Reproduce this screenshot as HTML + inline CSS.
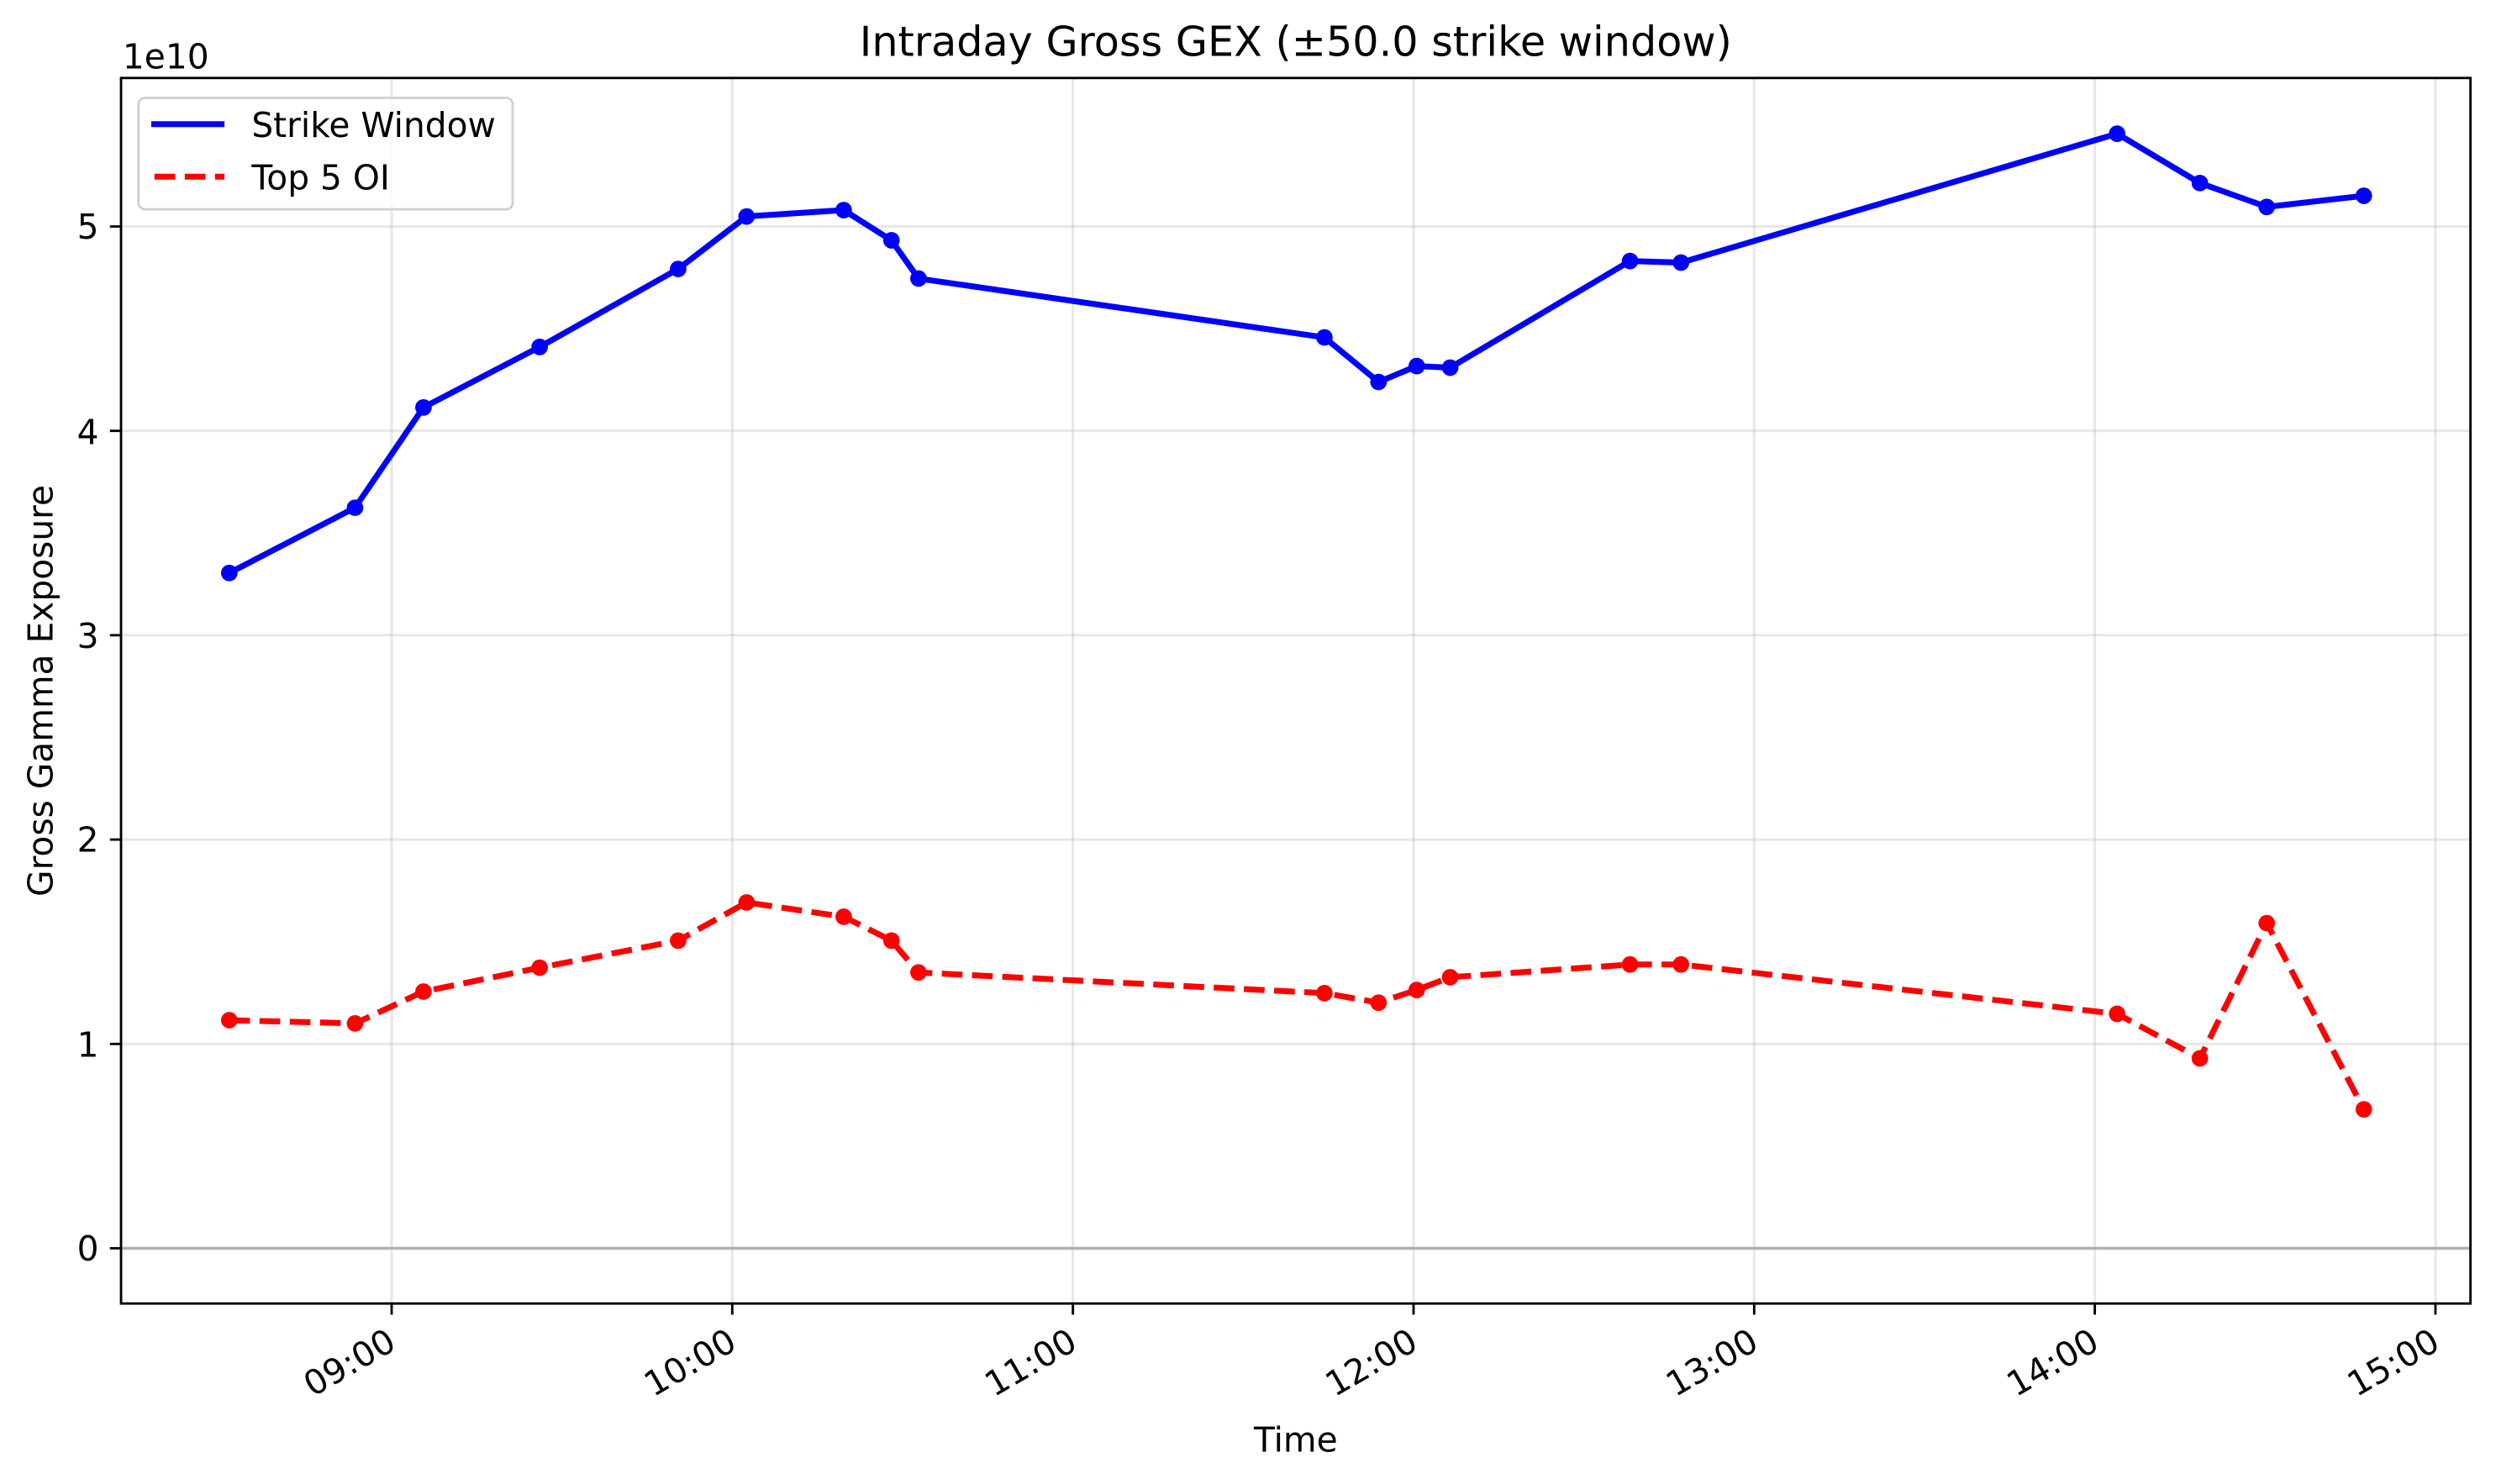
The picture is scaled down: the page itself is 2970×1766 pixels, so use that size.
<!DOCTYPE html>
<html><head><meta charset="utf-8"><style>html,body{margin:0;padding:0;background:#fff}svg{display:block}text{font-family:"DejaVu Sans","Liberation Sans",sans-serif;fill:#000}</style></head>
<body>
<svg width="2970" height="1766" viewBox="0 0 1568 932.4" xmlns="http://www.w3.org/2000/svg">
<rect width="1568" height="932.4" fill="#fff"/>
<g stroke="#b0b0b0" stroke-opacity="0.3" stroke-width="1.6">
<line x1="246" y1="49" x2="246" y2="819"/><line x1="460" y1="49" x2="460" y2="819"/><line x1="674" y1="49" x2="674" y2="819"/><line x1="888" y1="49" x2="888" y2="819"/><line x1="1102" y1="49" x2="1102" y2="819"/><line x1="1316" y1="49" x2="1316" y2="819"/><line x1="1530" y1="49" x2="1530" y2="819"/>
<line x1="76" y1="655.9" x2="1552" y2="655.9"/><line x1="76" y1="527.5" x2="1552" y2="527.5"/><line x1="76" y1="399.1" x2="1552" y2="399.1"/><line x1="76" y1="270.7" x2="1552" y2="270.7"/><line x1="76" y1="142.3" x2="1552" y2="142.3"/>
</g>
<line x1="76" y1="784.3" x2="1552" y2="784.3" stroke="#b0b0b0" stroke-width="1.8"/>
<polyline fill="none" stroke="#0000ff" stroke-width="3.7" stroke-linejoin="round" points="144,360 223,319 266,256 339,218 426,169 469,136 530,132 560,151 577,175 832,212 866,240 890,230 911,231 1024,164 1056,165 1330,84 1382,115 1424,130 1485,123"/>
<g fill="#0000ff"><circle cx="144" cy="360" r="5.2"/><circle cx="223" cy="319" r="5.2"/><circle cx="266" cy="256" r="5.2"/><circle cx="339" cy="218" r="5.2"/><circle cx="426" cy="169" r="5.2"/><circle cx="469" cy="136" r="5.2"/><circle cx="530" cy="132" r="5.2"/><circle cx="560" cy="151" r="5.2"/><circle cx="577" cy="175" r="5.2"/><circle cx="832" cy="212" r="5.2"/><circle cx="866" cy="240" r="5.2"/><circle cx="890" cy="230" r="5.2"/><circle cx="911" cy="231" r="5.2"/><circle cx="1024" cy="164" r="5.2"/><circle cx="1056" cy="165" r="5.2"/><circle cx="1330" cy="84" r="5.2"/><circle cx="1382" cy="115" r="5.2"/><circle cx="1424" cy="130" r="5.2"/><circle cx="1485" cy="123" r="5.2"/></g>
<polyline fill="none" stroke="#ff0000" stroke-width="3.7" stroke-dasharray="13,6" points="144,641 223,643 266,623 339,608 426,591 469,567 530,576 560,591 577,611 832,624 866,630 890,622 911,614 1024,606 1056,606 1330,637 1382,665 1424,580 1485,697"/>
<g fill="#ff0000"><circle cx="144" cy="641" r="5.2"/><circle cx="223" cy="643" r="5.2"/><circle cx="266" cy="623" r="5.2"/><circle cx="339" cy="608" r="5.2"/><circle cx="426" cy="591" r="5.2"/><circle cx="469" cy="567" r="5.2"/><circle cx="530" cy="576" r="5.2"/><circle cx="560" cy="591" r="5.2"/><circle cx="577" cy="611" r="5.2"/><circle cx="832" cy="624" r="5.2"/><circle cx="866" cy="630" r="5.2"/><circle cx="890" cy="622" r="5.2"/><circle cx="911" cy="614" r="5.2"/><circle cx="1024" cy="606" r="5.2"/><circle cx="1056" cy="606" r="5.2"/><circle cx="1330" cy="637" r="5.2"/><circle cx="1382" cy="665" r="5.2"/><circle cx="1424" cy="580" r="5.2"/><circle cx="1485" cy="697" r="5.2"/></g>
<rect x="76" y="49" width="1476" height="770" fill="none" stroke="#000" stroke-width="1.5"/>
<g stroke="#000" stroke-width="1.5">
<line x1="69" y1="784.3" x2="76" y2="784.3"/><line x1="69" y1="655.9" x2="76" y2="655.9"/><line x1="69" y1="527.5" x2="76" y2="527.5"/><line x1="69" y1="399.1" x2="76" y2="399.1"/><line x1="69" y1="270.7" x2="76" y2="270.7"/><line x1="69" y1="142.3" x2="76" y2="142.3"/>
<line x1="246" y1="819" x2="246" y2="826"/><line x1="460" y1="819" x2="460" y2="826"/><line x1="674" y1="819" x2="674" y2="826"/><line x1="888" y1="819" x2="888" y2="826"/><line x1="1102" y1="819" x2="1102" y2="826"/><line x1="1316" y1="819" x2="1316" y2="826"/><line x1="1530" y1="819" x2="1530" y2="826"/>
</g>
<g font-size="21.5" text-anchor="end">
<text x="62" y="792">0</text><text x="62" y="664">1</text><text x="62" y="535">2</text><text x="62" y="407">3</text><text x="62" y="279">4</text><text x="62" y="150">5</text>
</g>
<g font-size="21.5" text-anchor="end">
<text transform="translate(250,847) rotate(-30)">09:00</text>
<text transform="translate(464,847) rotate(-30)">10:00</text>
<text transform="translate(678,847) rotate(-30)">11:00</text>
<text transform="translate(892,847) rotate(-30)">12:00</text>
<text transform="translate(1106,847) rotate(-30)">13:00</text>
<text transform="translate(1320,847) rotate(-30)">14:00</text>
<text transform="translate(1534,847) rotate(-30)">15:00</text>
</g>
<text x="77" y="43" font-size="21.5">1e10</text>
<text x="814" y="35" font-size="26" text-anchor="middle">Intraday Gross GEX (±50.0 strike window)</text>
<text x="814" y="912" font-size="21.5" text-anchor="middle">Time</text>
<text transform="translate(33,434) rotate(-90)" font-size="21.5" text-anchor="middle">Gross Gamma Exposure</text>
<rect x="87" y="61.5" width="235" height="70" rx="4" fill="#fff" fill-opacity="0.8" stroke="#d0d0d0" stroke-width="1.5"/>
<line x1="95" y1="78" x2="141" y2="78" stroke="#0000ff" stroke-width="3.7"/>
<line x1="97" y1="111" x2="141" y2="111" stroke="#ff0000" stroke-width="3.7" stroke-dasharray="13,6"/>
<text x="158" y="86" font-size="21.5">Strike Window</text>
<text x="158" y="119" font-size="21.5">Top 5 OI</text>
</svg>
</body></html>
